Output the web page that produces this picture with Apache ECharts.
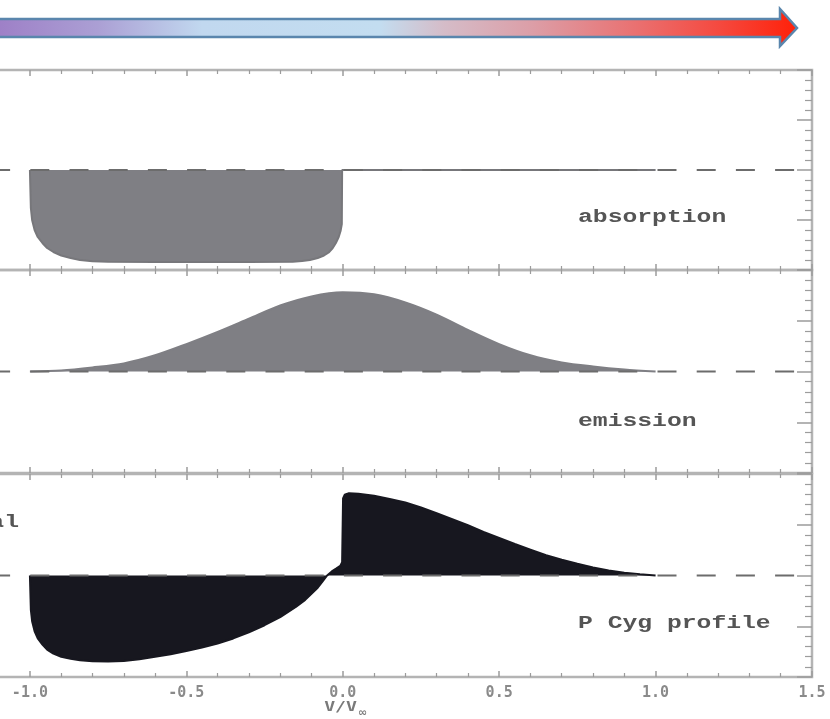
<!DOCTYPE html>
<html>
<head>
<meta charset="utf-8">
<script src="https://cdn.jsdelivr.net/npm/echarts@6/dist/echarts.min.js"></script>
<style>
html,body{margin:0;padding:0;background:#fff;}
#chart{width:830px;height:719px;}
</style>
</head>
<body>
<div id="chart"></div>
<script>
// ---- data (velocity v/v_inf, normalised flux; continuum = 1) ----
const xTickLabels = ['-1.5', '-1.0', '-0.5', '0.0', '0.5', '1.0', '1.5'];
const continuum = [[-1.5, 1], [1.5, 1]];
const absorption = [
  [-1.0, 1.0], [-0.997, 0.62], [-0.993, 0.50], [-0.985, 0.40], [-0.975, 0.33],
  [-0.96, 0.27], [-0.945, 0.22], [-0.925, 0.18], [-0.9, 0.145], [-0.87, 0.12],
  [-0.84, 0.10], [-0.8, 0.088], [-0.75, 0.082], [-0.6, 0.08], [-0.3, 0.08],
  [-0.16, 0.082], [-0.13, 0.09], [-0.105, 0.10], [-0.08, 0.12], [-0.06, 0.145],
  [-0.045, 0.175], [-0.032, 0.22], [-0.022, 0.27], [-0.013, 0.33], [-0.007, 0.39],
  [-0.003, 0.46], [-0.002, 1.0], [1.0, 1.0]
];
const emission = [
  [-1.0, 1.0], [-0.9, 1.01], [-0.8, 1.04], [-0.7, 1.08], [-0.6, 1.16],
  [-0.5, 1.27], [-0.4, 1.39], [-0.3, 1.52], [-0.2, 1.65], [-0.1, 1.74],
  [0.0, 1.78], [0.1, 1.76], [0.2, 1.68], [0.3, 1.56], [0.4, 1.41],
  [0.5, 1.27], [0.6, 1.16], [0.7, 1.09], [0.8, 1.05], [0.9, 1.02], [1.0, 1.0]
];
const pcygProfile = [
  [-1.0, 1.0], [-0.997, 0.66], [-0.993, 0.55], [-0.985, 0.45], [-0.975, 0.38],
  [-0.96, 0.32], [-0.945, 0.27], [-0.925, 0.23], [-0.9, 0.20], [-0.87, 0.18],
  [-0.84, 0.165], [-0.8, 0.155], [-0.75, 0.152], [-0.7, 0.158], [-0.65, 0.175],
  [-0.6, 0.20], [-0.55, 0.225], [-0.5, 0.255], [-0.45, 0.29], [-0.4, 0.33],
  [-0.35, 0.38], [-0.3, 0.44], [-0.25, 0.51], [-0.2, 0.59], [-0.15, 0.69],
  [-0.12, 0.76], [-0.1, 0.82], [-0.08, 0.88], [-0.065, 0.94], [-0.05, 1.0],
  [-0.035, 1.04], [-0.02, 1.07], [-0.008, 1.095], [-0.002, 1.13], [0.001, 1.76],
  [0.006, 1.795], [0.02, 1.81], [0.05, 1.805], [0.1, 1.785], [0.15, 1.755],
  [0.2, 1.72], [0.25, 1.67], [0.3, 1.615], [0.35, 1.555], [0.4, 1.495],
  [0.45, 1.43], [0.5, 1.37], [0.55, 1.31], [0.6, 1.255], [0.65, 1.2],
  [0.7, 1.155], [0.75, 1.115], [0.8, 1.08], [0.85, 1.05], [0.9, 1.028],
  [0.95, 1.012], [1.0, 1.0]
];
const panelLabels = ['absorption', 'emission', 'P Cyg profile'];
const sideLabel = 'total';
const axisTitle = 'V/V';
const axisTitleSub = '∞';

// ---- layout / styles ----
const gridTops = [70, 270, 474];
const gridHeights = [200, 203, 203];
const frameColor = '#b4b4b4';
const tickColor = '#9c9c9c';
const grayFill = '#7f7f84';
const darkFill = '#17171f';

const chart = echarts.init(document.getElementById('chart'));

const grids = gridTops.map((t, i) => ({
  left: -126.5, right: 18, top: t, height: gridHeights[i],
  show: true, borderColor: frameColor, borderWidth: 2.5,
  backgroundColor: 'transparent', containLabel: false, outerBoundsMode: 'none'
}));

function xAx(gi, pos, showLabel) {
  return {
    type: 'value', gridIndex: gi, position: pos, min: -1.5, max: 1.5, interval: 0.5,
    axisLine: { show: false, onZero: false },
    axisTick: { show: true, inside: true, length: 6, lineStyle: { color: tickColor, width: 1.5 } },
    minorTick: { show: true, splitNumber: 5, length: 4, lineStyle: { color: tickColor, width: 1.2 } },
    splitLine: { show: false }, minorSplitLine: { show: false },
    axisLabel: {
      show: showLabel, margin: 9, color: '#8a8a8a',
      fontFamily: 'DejaVu Sans Mono', fontWeight: 'bold', fontSize: 15,
      formatter: v => xTickLabels[Math.round((v + 1.5) / 0.5)]
    }
  };
}
function yAx(gi, pos) {
  return {
    type: 'value', gridIndex: gi, position: pos, min: 0, max: 2, interval: 0.5,
    axisLine: { show: false, onZero: false },
    axisTick: { show: true, inside: true, length: 15, lineStyle: { color: tickColor, width: 1.5 } },
    minorTick: { show: true, splitNumber: 5, length: 7, lineStyle: { color: tickColor, width: 1.2 } },
    splitLine: { show: false }, minorSplitLine: { show: false },
    axisLabel: { show: false }
  };
}

const xAxes = [], yAxes = [];
for (let i = 0; i < 3; i++) {
  xAxes.push(xAx(i, 'bottom', i === 2));   // index 2*i
  xAxes.push(xAx(i, 'top', false));        // index 2*i+1
  yAxes.push(yAx(i, 'right'));             // index 2*i
  yAxes.push(yAx(i, 'left'));              // index 2*i+1
}

const profiles = [absorption, emission, pcygProfile];
const fills = [grayFill, grayFill, darkFill];
const strokes = ['#77777b', '#7f7f84', darkFill];
const smooths = [false, 0.3, false];
const series = [];
for (let i = 0; i < 3; i++) {
  series.push({
    type: 'line', xAxisIndex: 2 * i, yAxisIndex: 2 * i, data: profiles[i],
    showSymbol: false, symbol: 'none', z: 3, silent: true,
    smooth: smooths[i],
    lineStyle: { color: strokes[i], width: 2 },
    areaStyle: { origin: 1, color: fills[i], opacity: 1 }
  });
  series.push({
    type: 'line', xAxisIndex: 2 * i, yAxisIndex: 2 * i, data: continuum,
    showSymbol: false, symbol: 'none', z: 5, silent: true,
    lineStyle: { color: '#6c6c6c', width: 2, type: [19, 20.2] }
  });
}

const labelFont = 'bold 19px "Liberation Mono", "DejaVu Sans Mono", monospace';
const labelYs = [217, 421, 623];
const graphics = panelLabels.map((t, i) => ({
  type: 'text', x: 578, y: labelYs[i], scaleX: 1.3, silent: true,
  style: { text: t, font: labelFont, fill: '#555555', textAlign: 'left', textVerticalAlign: 'middle' }
}));
graphics.push({
  type: 'text', x: 19, y: 522, scaleX: 1.3, silent: true,
  style: { text: sideLabel, font: labelFont, fill: '#555555', textAlign: 'right', textVerticalAlign: 'middle' }
});
graphics.push({
  type: 'text', x: 357, y: 707, scaleX: 1.3, silent: true,
  style: { text: axisTitle, font: 'bold 14px "DejaVu Sans Mono", monospace', fill: '#7a7a7a', textAlign: 'right', textVerticalAlign: 'middle' }
});
graphics.push({
  type: 'text', x: 358, y: 713, silent: true,
  style: { text: axisTitleSub, font: 'bold 11px "DejaVu Sans", sans-serif', fill: '#7a7a7a', textAlign: 'left', textVerticalAlign: 'middle' }
});
// gradient arrow at top
graphics.push({
  type: 'polygon', silent: true,
  shape: { points: [[-6, 19], [780, 19], [780, 9], [797, 28], [780, 46], [780, 37], [-6, 37]] },
  style: {
    fill: new echarts.graphic.LinearGradient(0, 0, 1, 0, [
      { offset: 0, color: '#9d7ec6' },
      { offset: 0.13, color: '#ab9fd4' },
      { offset: 0.26, color: '#c1d8ef' },
      { offset: 0.48, color: '#c3ddf0' },
      { offset: 0.56, color: '#d5bcc8' },
      { offset: 0.67, color: '#dc9ea7' },
      { offset: 0.8, color: '#ea7070' },
      { offset: 0.9, color: '#f54a40' },
      { offset: 1, color: '#ff2008' }
    ]),
    stroke: '#5a86ad', lineWidth: 2.5, lineJoin: 'miter'
  }
});

chart.setOption({
  backgroundColor: '#ffffff',
  animation: false,
  grid: grids,
  xAxis: xAxes,
  yAxis: yAxes,
  series: series,
  graphic: graphics
});
</script>
</body>
</html>
